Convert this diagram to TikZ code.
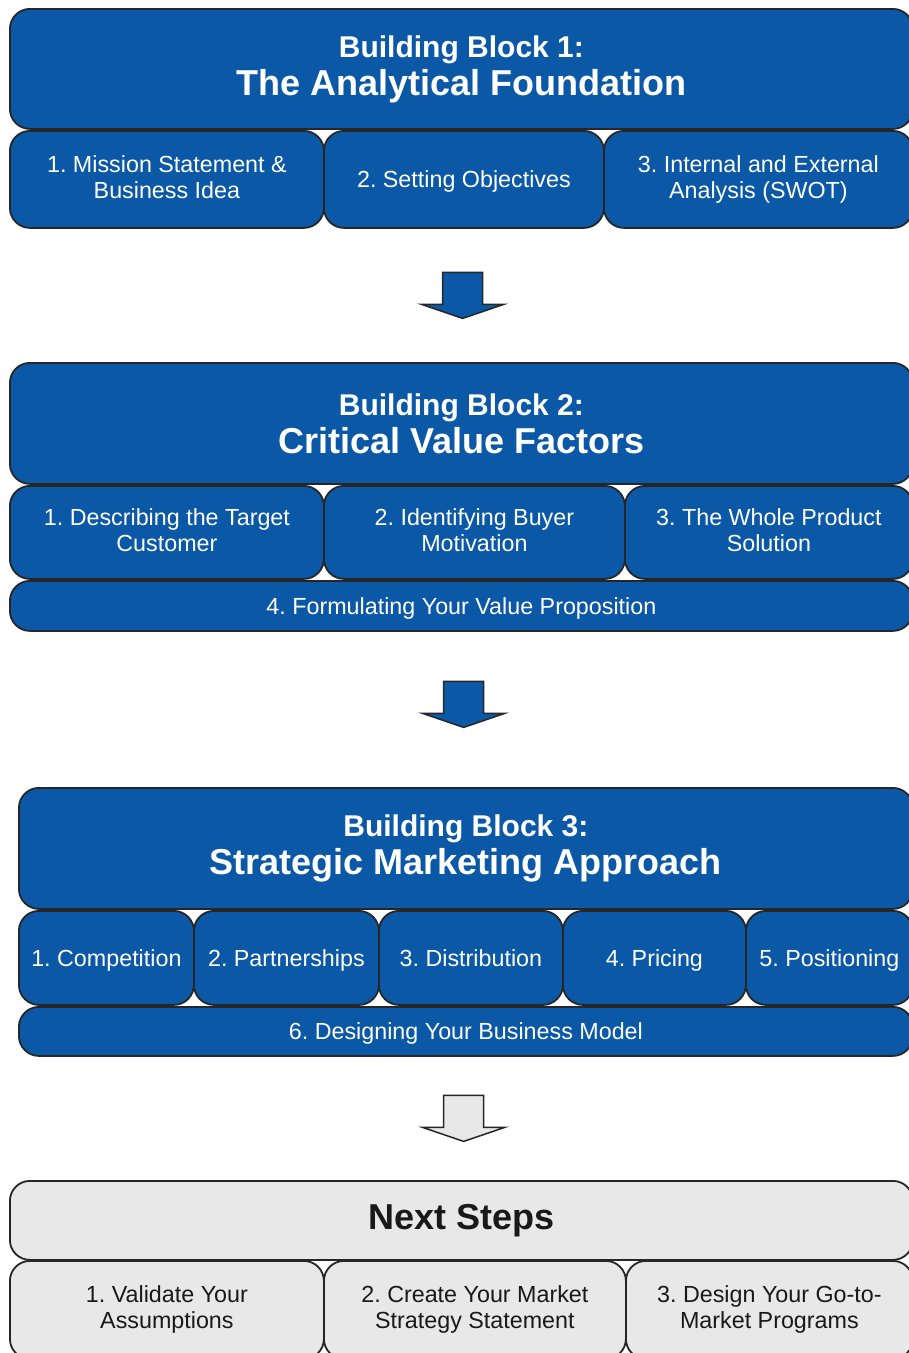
\documentclass[tikz,border=0pt]{standalone}
\usepackage{fontspec}
\setmainfont{Liberation Sans}
\usepackage{tikz}
\usetikzlibrary{positioning,calc}

\definecolor{blockblue}{RGB}{11,89,166}
\definecolor{stepgrey}{RGB}{232,232,232}

% strut that centres the cap height of the item font
\newcommand{\itemstrut}{\rule[-4.6pt]{0pt}{26pt}}

% fat down arrow between two blocks, centred on #1
\newcommand{\fatdown}[2]{%
  \draw[fatarrow, fill=#2, shift={(#1)}]
    (-20,-23) -- (20,-23) -- (20,9) -- (41,9) -- (0,23) -- (-41,9) -- (-20,9) -- cycle;}

\begin{document}
\frenchspacing
\begin{tikzpicture}[
  x=1pt, y=-1pt,
  box/.style={draw=black!85, line width=1.8pt, rounded corners=20pt,
    inner sep=0pt, align=center, anchor=north west},
  bluebox/.style={box, fill=blockblue, text=white},
  greybox/.style={box, fill=stepgrey, text=black!90},
  itemtext/.style={font=\fontsize{23.3}{26}\selectfont,
    execute at begin node=\itemstrut, execute at end node=\itemstrut},
  headtext/.style={font=\bfseries\fontsize{36}{38}\selectfont},
  fatarrow/.style={draw=black!85, line width=1.5pt, line join=miter}]

\useasboundingbox (0,0) rectangle (909,1353);

% ---- building block 1 ----------------------------------------------------
\node[bluebox, headtext, minimum width=903, minimum height=120] (bb1) at (9,8)
  {{\fontsize{30}{30}\selectfont Building Block 1:}\\ The Analytical Foundation};
\node[bluebox, itemtext, minimum width=314, minimum height=97] (bb1a) at (9,130)
  {1. Mission Statement \&\\ Business Idea};
\node[bluebox, itemtext, minimum width=280, minimum height=97] (bb1b) at (323,130)
  {2. Setting Objectives};
\node[bluebox, itemtext, minimum width=309, minimum height=97] (bb1c) at (603,130)
  {3. Internal and External\\ Analysis (SWOT)};

% ---- building block 2 ----------------------------------------------------
\node[bluebox, headtext, minimum width=903, minimum height=121] (bb2) at (9,362)
  {{\fontsize{30}{30}\selectfont Building Block 2:}\\ Critical Value Factors};
\node[bluebox, itemtext, minimum width=314, minimum height=93] (bb2a) at (9,485)
  {1. Describing the Target\\ Customer};
\node[bluebox, itemtext, minimum width=301, minimum height=93] (bb2b) at (323,485)
  {2. Identifying Buyer\\ Motivation};
\node[bluebox, itemtext, minimum width=288, minimum height=93] (bb2c) at (624,485)
  {3. The Whole Product\\ Solution};
\node[bluebox, itemtext, minimum width=903, minimum height=50] (bb2d) at (9,580)
  {4. Formulating Your Value Proposition};

% ---- building block 3 ----------------------------------------------------
\node[bluebox, headtext, minimum width=894, minimum height=121] (bb3) at (18,787)
  {{\fontsize{30}{30}\selectfont Building Block 3:}\\ Strategic Marketing Approach};
\node[bluebox, itemtext, minimum width=175, minimum height=94] (bb3a) at (18,910)
  {1. Competition};
\node[bluebox, itemtext, minimum width=185, minimum height=94] (bb3b) at (193,910)
  {2. Partnerships};
\node[bluebox, itemtext, minimum width=184, minimum height=94] (bb3c) at (378,910)
  {3. Distribution};
\node[bluebox, itemtext, minimum width=183, minimum height=94] (bb3d) at (562,910)
  {4. Pricing};
\node[bluebox, itemtext, minimum width=167, minimum height=94] (bb3e) at (745,910)
  {5. Positioning};
\node[bluebox, itemtext, minimum width=894, minimum height=49] (bb3f) at (18,1006)
  {6. Designing Your Business Model};

% ---- next steps ----------------------------------------------------------
\node[greybox, headtext, minimum width=903, minimum height=79] (ns) at (9,1180)
  {Next Steps};
\node[greybox, itemtext, minimum width=314, minimum height=98] (nsa) at (9,1260)
  {1. Validate Your\\ Assumptions};
\node[greybox, itemtext, minimum width=302, minimum height=98] (nsb) at (323,1260)
  {2. Create Your Market\\ Strategy Statement};
\node[greybox, itemtext, minimum width=287, minimum height=98] (nsc) at (625,1260)
  {3. Design Your Go-to-\\ Market Programs};

% ---- arrows between the blocks ------------------------------------------
\coordinate (a1) at ($(bb1b.south)!0.5!(bb2.north)$);
\coordinate (a2) at ($($(bb2d.south)!0.5!(bb3.north)$)+(0,-5)$);
\coordinate (a3) at ($(bb3f.south)!0.5!(ns.north)$);
\fatdown{a1}{blockblue}
\fatdown{a2}{blockblue}
\fatdown{a3}{stepgrey}

\end{tikzpicture}
\end{document}
